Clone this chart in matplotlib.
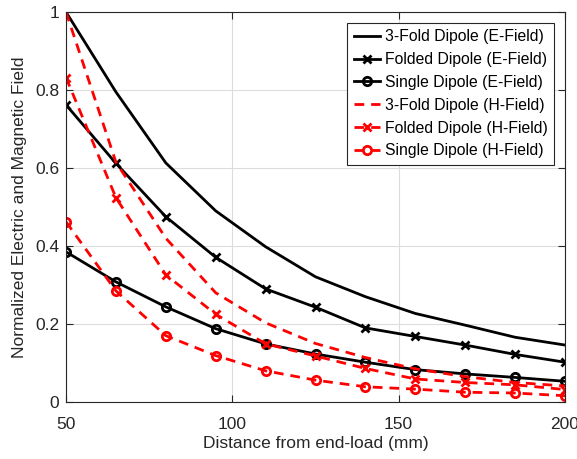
import matplotlib.pyplot as plt

plt.rcParams['font.family'] = ['Liberation Sans', 'DejaVu Sans']

distance = [50, 65, 80, 95, 110, 125, 140, 155, 170, 185, 200]

# E-field (solid black)
e_threefold = [1.0, 0.795, 0.613, 0.49, 0.398, 0.321, 0.27, 0.227, 0.197, 0.166, 0.146]
e_folded = [0.762, 0.612, 0.475, 0.371, 0.29, 0.243, 0.19, 0.168, 0.146, 0.122, 0.102]
e_single = [0.385, 0.308, 0.244, 0.188, 0.149, 0.123, 0.102, 0.083, 0.072, 0.063, 0.053]

# H-field (dashed red)
h_threefold = [1.0, 0.615, 0.42, 0.28, 0.203, 0.15, 0.114, 0.085, 0.065, 0.05, 0.041]
h_folded = [0.832, 0.524, 0.326, 0.225, 0.149, 0.118, 0.086, 0.059, 0.05, 0.044, 0.032]
h_single = [0.462, 0.285, 0.17, 0.119, 0.08, 0.056, 0.039, 0.033, 0.025, 0.023, 0.016]

labels = ['3-Fold Dipole (E-Field)', 'Folded Dipole (E-Field)', 'Single Dipole (E-Field)',
          '3-Fold Dipole (H-Field)', 'Folded Dipole (H-Field)', 'Single Dipole (H-Field)']

fig = plt.figure(figsize=(5.77, 4.59), dpi=100)
ax = fig.add_axes([0.1144, 0.1242, 0.8648, 0.8497])

lw = 2
dash = (0, (3.5, 2.5))
ax.plot(distance, e_threefold, color='k', lw=lw, label=labels[0])
ax.plot(distance, e_folded, color='k', lw=lw, marker='x', ms=6, mew=2, label=labels[1])
ax.plot(distance, e_single, color='k', lw=lw, marker='o', ms=6, mew=2, mfc='none', label=labels[2])
ax.plot(distance, h_threefold, color='r', lw=lw, ls=dash, label=labels[3])
ax.plot(distance, h_folded, color='r', lw=lw, ls=dash, marker='x', ms=6, mew=2, label=labels[4])
ax.plot(distance, h_single, color='r', lw=lw, ls=dash, marker='o', ms=6, mew=2, mfc='none', label=labels[5])

ax.set_xlim(50, 200)
ax.set_ylim(0, 1)
ax.set_xticks([50, 100, 150, 200])
ax.set_yticks([0, 0.2, 0.4, 0.6, 0.8, 1])
ax.set_yticklabels(['0', '0.2', '0.4', '0.6', '0.8', '1'])
ax.grid(True, color='#dcdcdc', lw=0.8)
ax.set_axisbelow(True)
ax.tick_params(direction='in', top=True, right=True, labelsize=12.5, colors='#262626', length=5)
ax.tick_params(axis='x', pad=11)
ax.tick_params(axis='y', pad=5)
for s in ax.spines.values():
    s.set_color('#262626')
    s.set_linewidth(0.8)

ax.set_xlabel('Distance from end-load (mm)', fontsize=12.5, color='#262626', labelpad=3)
ax.set_ylabel('Normalized Electric and Magnetic Field', fontsize=12.5, color='#262626', labelpad=6)

leg = ax.legend(loc='upper right', fontsize=11.3, handlelength=1.7, handletextpad=0.3,
                borderaxespad=0.7, labelspacing=0.5, fancybox=False, framealpha=1,
                borderpad=0.4)
leg.get_frame().set_edgecolor('#262626')
leg.get_frame().set_linewidth(0.8)

fig.savefig('out.png', dpi=100)
